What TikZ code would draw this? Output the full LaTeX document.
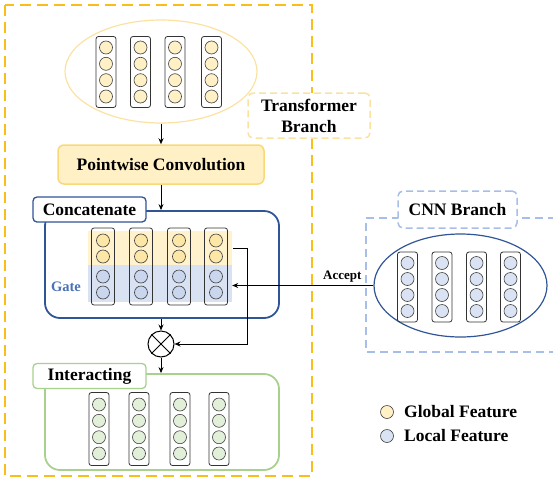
\documentclass[tikz,border=0pt]{standalone}
\usepackage{fontspec}
\setmainfont{Liberation Serif}
\usetikzlibrary{shapes.geometric,arrows.meta}
\definecolor{gold}{HTML}{F9BE1A}
\definecolor{yfill}{HTML}{FFF0C6}
\definecolor{ydot}{HTML}{FDE7A6}
\definecolor{yband}{HTML}{FFF2CC}
\definecolor{yborder}{HTML}{F8D877}
\definecolor{ylight}{HTML}{FBE2A2}
\definecolor{bdot}{HTML}{DAE3F3}
\definecolor{bdot2}{HTML}{C9D6EE}
\definecolor{bband}{HTML}{D9E2F3}
\definecolor{navy}{HTML}{2F5597}
\definecolor{lblue}{HTML}{A7BFE8}
\definecolor{gatec}{HTML}{4A70B5}
\definecolor{gfill}{HTML}{E2F0D9}
\definecolor{gborder}{HTML}{A9D18E}
\newcommand\bigfont{\fontsize{17.5}{21}\selectfont\bfseries}
\tikzset{
  colbox/.style={draw=black!80, rounded corners=2.5pt, line width=0.8pt, minimum width=20pt, inner sep=0pt},
  dot/.style={circle, draw=black!75, minimum size=13pt, inner sep=0pt, line width=0.6pt},
  arr/.style={-{Stealth[length=6pt,width=5pt]}, line width=0.9pt, black},
  labelbox/.style={rounded corners=4pt, fill=white, line width=1.3pt, minimum width=113pt, minimum height=25pt, inner sep=0pt, font=\bigfont},
}
% name, x, y-center, height, fill, offsets
\newcommand\fourcol[6]{%
  \node[colbox, minimum height=#4pt] (#1) at (#2,#3) {};
  \foreach \k/\dy in {#6} \node[dot, fill=#5] (#1-\k) at (#2,{#3+\dy}) {};
}
\begin{document}
\begin{tikzpicture}[x=1pt,y=-1pt]
\useasboundingbox (0,0) rectangle (553,479);

% outer transformer dashed frame
\draw[gold, line width=2.3pt, dash pattern=on 11pt off 6pt] (5,5) rectangle (312,476);

% CNN dashed frame
\draw[lblue, line width=1.5pt, dash pattern=on 8pt off 5pt] (556,218) -- (366,218) -- (366,352) -- (556,352);

% top ellipse
\node[ellipse, draw=ylight, line width=1.2pt, minimum width=192pt, minimum height=103pt] (topell) at (161,71.5) {};
\fourcol{t1}{106}{72}{71}{yfill}{1/-24.5,2/-8.2,3/8.2,4/24.5}
\fourcol{t2}{140.5}{72}{71}{yfill}{1/-24.5,2/-8.2,3/8.2,4/24.5}
\fourcol{t3}{175}{72}{71}{yfill}{1/-24.5,2/-8.2,3/8.2,4/24.5}
\fourcol{t4}{211.5}{72}{71}{yfill}{1/-24.5,2/-8.2,3/8.2,4/24.5}

% transformer branch label
\node[draw=ylight, dashed, dash pattern=on 7pt off 4pt, line width=1.5pt, rounded corners=5pt, fill=white, minimum width=122pt, minimum height=45pt, inner sep=0pt, align=center, font=\bigfont] (tblabel) at (309,115.5) {Transformer\\Branch};

% pointwise convolution
\node[draw=yborder, fill=yfill, line width=1.5pt, rounded corners=6pt, minimum width=206pt, minimum height=39pt, inner sep=0pt, font=\bigfont] (pw) at (161,164.5) {Pointwise Convolution};
\draw[arr] (topell.south) -- (pw.north);

% concatenate block
\node[draw=navy, line width=1.8pt, rounded corners=15pt, minimum width=234pt, minimum height=107pt, inner sep=0pt] (concat) at (162,264.5) {};
\node[labelbox, draw=navy] (concatlbl) at (89.5,209.5) {Concatenate};
\draw[arr] (pw.south) -- (pw.south |- concat.north);

\node[fill=yband, minimum width=144pt, minimum height=34pt, inner sep=0pt] (yb) at (160,248) {};
\node[fill=bband, minimum width=144pt, minimum height=37pt, inner sep=0pt] (bb) at (160,283.5) {};
\node[text=gatec, font=\fontsize{14.5}{17}\selectfont\bfseries] (gate) at (66,287) {Gate};

\foreach \n/\xx in {c1/103,c2/141,c3/179,c4/216}{
  \node[colbox, minimum width=23pt, minimum height=77pt] (\n) at (\xx,266.5) {};
  \node[dot, fill=ydot] (\n-1) at (\xx,240.5) {};
  \node[dot, fill=ydot] (\n-2) at (\xx,256.5) {};
  \node[dot, fill=bdot2] (\n-3) at (\xx,276.5) {};
  \node[dot, fill=bdot2] (\n-4) at (\xx,292.5) {};
}

% otimes
\node[circle, draw=black, line width=1pt, minimum size=26pt, inner sep=0pt] (ot) at (161,344) {};
\draw[line width=1pt] (ot.north west) -- (ot.south east) (ot.north east) -- (ot.south west);
\draw[arr] (concat.south -| ot.north) -- (ot.north);

\coordinate (gs) at (233,248.5);
\draw[arr] (gs) -- (247,248.5) |- (ot.east);

% interacting block
\node[draw=gborder, line width=1.8pt, rounded corners=15pt, minimum width=234pt, minimum height=96pt, inner sep=0pt] (inter) at (162,422) {};
\node[labelbox, draw=gborder] (interlbl) at (89.5,376) {Interacting};
\draw[arr] (ot.south) -- (ot.south |- inter.north);
\fourcol{i1}{99}{429}{73}{gfill}{1/-24.5,2/-8.2,3/8.2,4/24.5}
\fourcol{i2}{139}{429}{73}{gfill}{1/-24.5,2/-8.2,3/8.2,4/24.5}
\fourcol{i3}{180}{429}{73}{gfill}{1/-24.5,2/-8.2,3/8.2,4/24.5}
\fourcol{i4}{219}{429}{73}{gfill}{1/-24.5,2/-8.2,3/8.2,4/24.5}

% CNN branch
\node[draw=lblue, dashed, dash pattern=on 7pt off 4pt, line width=1.5pt, rounded corners=5pt, fill=white, minimum width=119pt, minimum height=37pt, inner sep=0pt, font=\bigfont] (cnnlbl) at (457.5,209.5) {CNN Branch};
\node[ellipse, draw=navy, line width=1.2pt, minimum width=173pt, minimum height=103pt] (cnnell) at (460.5,285.5) {};
\fourcol{n1}{407.5}{287}{70}{bdot}{1/-24,2/-8,3/8,4/24}
\fourcol{n2}{442}{287}{70}{bdot}{1/-24,2/-8,3/8,4/24}
\fourcol{n3}{476.5}{287}{70}{bdot}{1/-24,2/-8,3/8,4/24}
\fourcol{n4}{510.5}{287}{70}{bdot}{1/-24,2/-8,3/8,4/24}

\draw[arr] (cnnell.west) -- node[pos=0.22, above, font=\fontsize{13}{15}\selectfont\bfseries, inner sep=3pt] (acc) {Accept} (cnnell.west -| bb.east);

% legend
\node[dot, fill=yfill] (lg1) at (387,412) {};
\node[dot, fill=bdot] (lg2) at (387,436) {};
\node[anchor=west, inner sep=0pt, font=\bigfont] (lg1t) at (404,412) {Global Feature};
\node[anchor=west, inner sep=0pt, font=\bigfont] (lg2t) at (404,436) {Local Feature};
\end{tikzpicture}
\end{document}
